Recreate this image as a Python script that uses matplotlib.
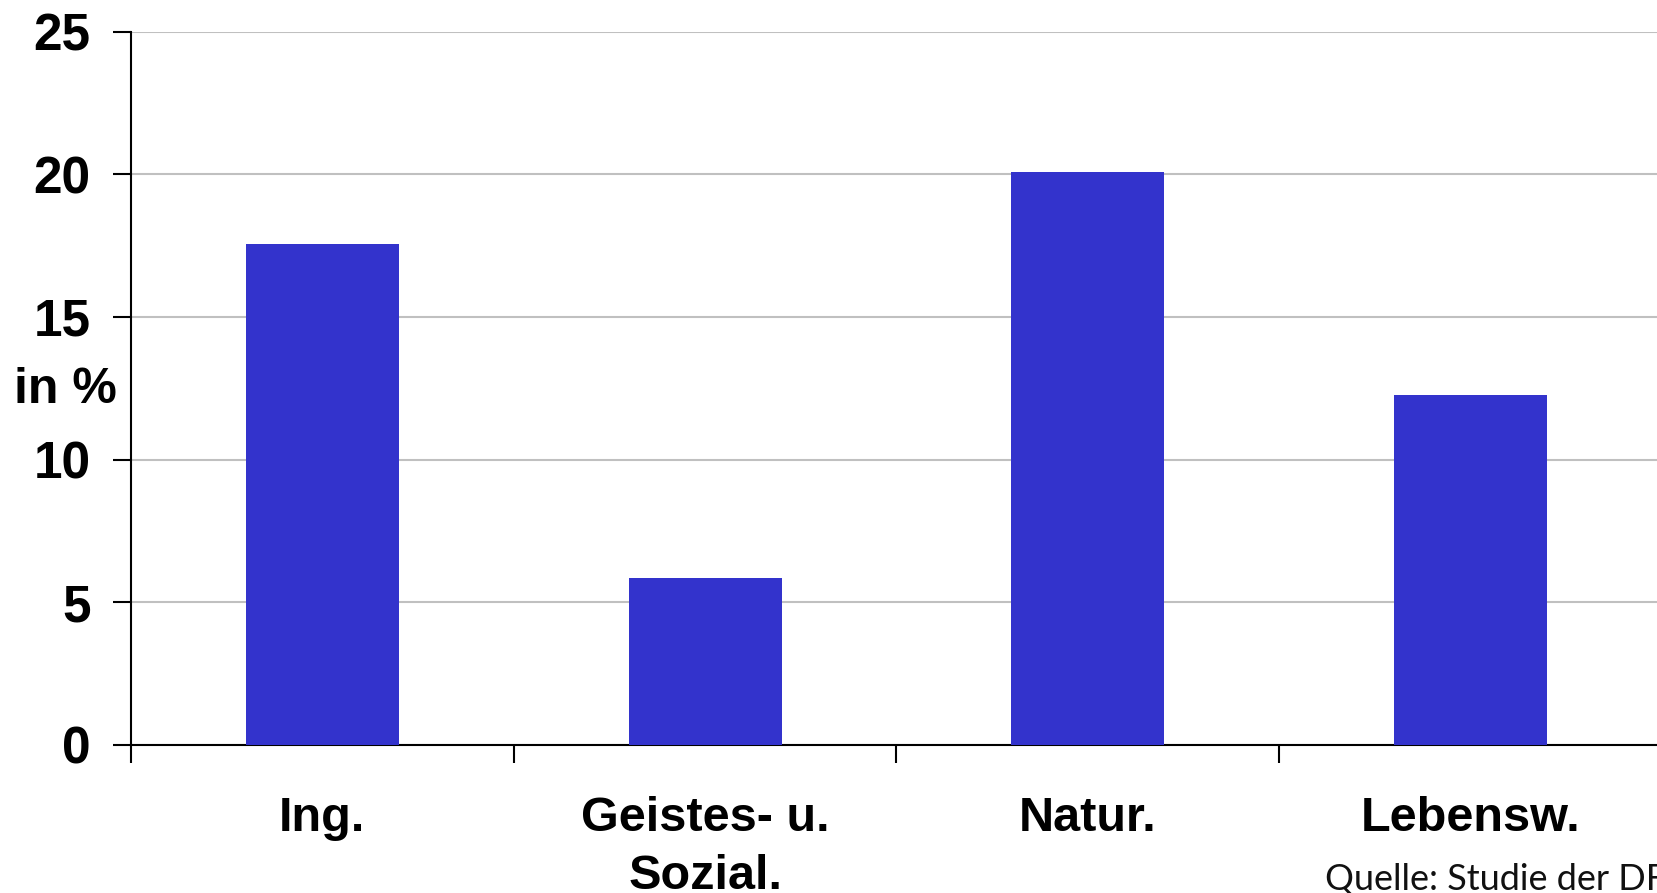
import matplotlib
matplotlib.use("Agg")
import matplotlib.pyplot as plt

categories = ["Ing.", "Geistes- u.\nSozial.", "Natur.", "Lebensw."]
values = [17.55, 5.85, 20.08, 12.26]
yticks = [0, 5, 10, 15, 20, 25]
source = "Quelle: Studie der DFG"

W, H = 1658, 893
fig = plt.figure(figsize=(W / 100, H / 100), dpi=100)
ax = fig.add_axes([131 / W, 148 / H, (1662 - 131) / W, (745 - 31.5) / H])

x = list(range(len(categories)))
ax.bar(x, values, width=0.40, color="#3333CC", zorder=3)

ax.set_xlim(-0.5, len(categories) - 0.5)
ax.set_ylim(0, 25)
ax.set_yticks(yticks)
ax.set_yticklabels([str(t) for t in yticks], fontfamily="Liberation Sans",
                   fontweight="bold", fontsize=37)
ax.set_xticks([i - 0.5 for i in range(len(categories) + 1)])
ax.set_xticklabels([])
ax.tick_params(axis="y", length=13, width=1.5, pad=16, direction="out")
ax.tick_params(axis="x", length=13, width=1.5, direction="out")
ax.grid(axis="y", color="#c0c0c0", linewidth=1.5, zorder=0)
ax.set_axisbelow(True)
for s in ["top", "right"]:
    ax.spines[s].set_visible(False)
for s in ["left", "bottom"]:
    ax.spines[s].set_linewidth(1.5)
    ax.spines[s].set_color("black")

for i, c in enumerate(categories):
    for k, line in enumerate(c.split("\n")):
        ax.annotate(line, xy=(i, 0), xycoords=("data", "axes fraction"),
                    xytext=(0, -62 - k * 41.5), textcoords="offset points",
                    ha="center", va="baseline",
                    fontfamily="Liberation Sans", fontweight="bold", fontsize=35,
                    annotation_clip=False)

fig.text(65 / W, (H - 403) / H, "in %", ha="center", va="baseline",
         fontfamily="Liberation Sans", fontweight="bold", fontsize=36)

fig.text(1325 / W, (H - 890) / H, source, ha="left",
         va="baseline", fontfamily="Lato", fontsize=26, color="#111111")

fig.savefig("out.png", dpi=100)
